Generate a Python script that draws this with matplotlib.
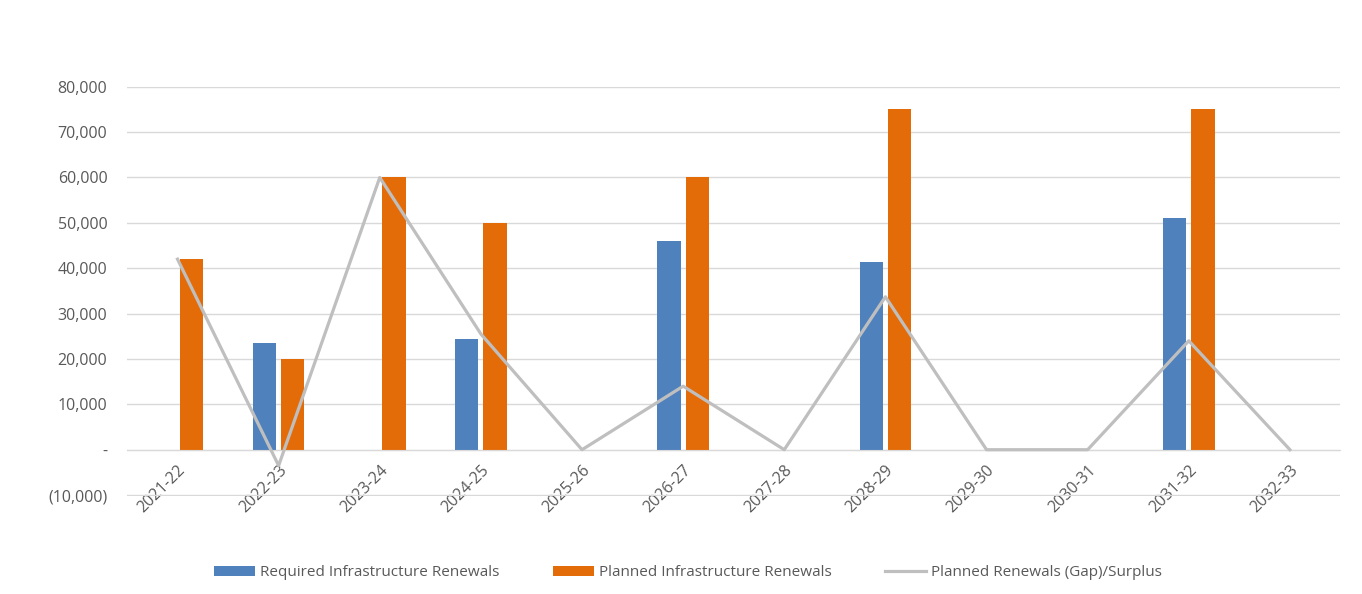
import numpy as np
import matplotlib.pyplot as plt

years = ['2021-22', '2022-23', '2023-24', '2024-25', '2025-26', '2026-27',
         '2027-28', '2028-29', '2029-30', '2030-31', '2031-32', '2032-33']
required = [0, 23500, 0, 24500, 0, 46000, 0, 41300, 0, 0, 51000, 0]
planned = [42000, 20000, 60000, 50000, 0, 60000, 0, 75000, 0, 0, 75000, 0]
gap = [42000, -3500, 60000, 25500, 0, 14000, 0, 33700, 0, 0, 24000, 0]

plt.rcParams['font.family'] = ['Open Sans', 'DejaVu Sans']

fig = plt.figure(figsize=(13.62, 5.94), dpi=100)
ax = fig.add_axes([0.0932, 0.1650, 0.891, 0.689])

x = np.arange(len(years))
w = 0.23
b1 = ax.bar(x - 0.14, required, w, color='#4F81BD', label='Required Infrastructure Renewals', zorder=2)
b2 = ax.bar(x + 0.14, planned, w, color='#E36C09', label='Planned Infrastructure Renewals', zorder=2)
l1, = ax.plot(x, gap, color='#BFBFBF', lw=2.3, label='Planned Renewals (Gap)/Surplus', zorder=3)

ax.set_xlim(-0.5, len(years) - 0.5)
ax.set_ylim(-10200, 80000)
ax.set_yticks(np.arange(-10000, 80001, 10000))

def fmt(v):
    if v == 0:
        return '-'
    if v < 0:
        return '({:,})'.format(int(-v))
    return '{:,}'.format(int(v))

ax.set_yticklabels([fmt(v) for v in ax.get_yticks()])
ax.grid(axis='y', color='#D9D9D9', lw=1, zorder=0)

for s in ['top', 'right', 'left']:
    ax.spines[s].set_visible(False)
ax.spines['bottom'].set_position(('data', 0))
ax.spines['bottom'].set_color('#D9D9D9')
ax.set_xticks(x)
ax.set_xticklabels(years, rotation=45, ha='right', va='top', rotation_mode='anchor')
ax.tick_params(axis='x', length=0, pad=9, labelsize=11.5, labelcolor='#595959')
ax.tick_params(axis='y', length=0, pad=14, labelsize=11.5, labelcolor='#595959')

fig.legend(handles=[b1, b2, l1], loc='lower center', bbox_to_anchor=(0.505, 0.0), ncol=3,
           frameon=False, fontsize=11, labelcolor='#595959', handlelength=2.7,
           handleheight=0.7, handletextpad=0.3, columnspacing=3.5)

fig.savefig('out.png', dpi=100)
